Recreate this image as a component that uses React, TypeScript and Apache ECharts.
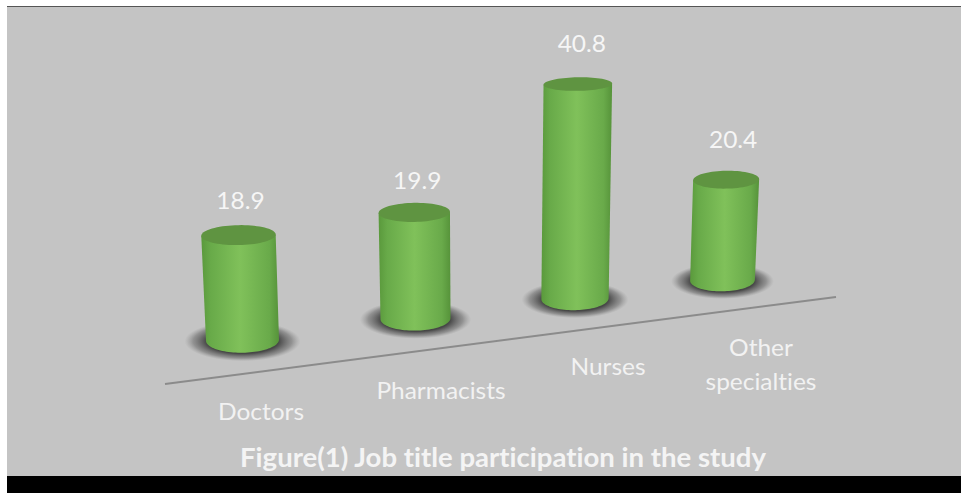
import React, { useEffect, useRef } from "react";
import * as echarts from "echarts";

const categories = ["Doctors", "Pharmacists", "Nurses", "Other\nspecialties"];
const values = [18.9, 19.9, 40.8, 20.4];
const valueMax = 50;
const chartTitle = "Figure(1) Job title participation in the study";

const W = 961;
const H = 493;
const FONT = "Lato, 'Open Sans', sans-serif";
const GRID_LEFT = 147.2;
const GRID_WIDTH = 762.4;
const VALUE_DY = [-36, -33, -41, -41];
const VALUE_DX = [2, 3, 4, 7];
const CAT_OFFSET = [[18.5, 70], [25.5, 71], [33, 67], [38.5, 83]];

function arcPts(cx: number, cy: number, rx: number, ry: number, rotDeg: number, a0: number, a1: number, n = 48) {
  const r = (rotDeg * Math.PI) / 180;
  const out: number[][] = [];
  for (let k = 0; k <= n; k++) {
    const a = a0 + ((a1 - a0) * k) / n;
    const ex = rx * Math.cos(a);
    const ey = ry * Math.sin(a);
    out.push([cx + ex * Math.cos(r) - ey * Math.sin(r), cy + ex * Math.sin(r) + ey * Math.cos(r)]);
  }
  return out;
}

function renderCylinder(params: any, api: any) {
  const i = api.value(0);
  const v = api.value(1);
  const base = api.coord([i, 0]);
  const top = api.coord([i, v]);
  const t = (base[0] - (GRID_LEFT + GRID_WIDTH / 8)) / (GRID_WIDTH / 4);
  const s = 1 / (1 + 0.04235 * t);
  const bx = base[0] * s;
  const by = 340.2 - 0.125 * (bx - 242.5);
  const h0 = (base[1] - top[1]) * s;
  const h = h0 * (1 + 0.00025 * (h0 - 105));
  const tilt = 0.000155 * (bx - 490);
  const tx = bx + tilt * h;
  const ty = by - h;
  const botRx = (73 * s) / 2;
  const topRx = (74.4 * s) / 2;
  const botRy = 12.5 * s;
  const topRy = s * (12.5 - 0.024 * h);
  const rot = -1;

  const bottomArc = arcPts(bx, by, botRx, botRy, rot, Math.PI, 0);
  const lid = arcPts(tx, ty, topRx, topRy, rot, 0, Math.PI * 2, 72);
  const body = [lid[36], ...bottomArc, lid[0]];
  const co = CAT_OFFSET[i];

  return {
    type: "group",
    children: [
      {
        type: "ellipse",
        shape: { cx: bx, cy: by + 1, rx: 58 * s, ry: 20 * s },
        style: {
          fill: {
            type: "radial",
            x: 0.5,
            y: 0.5,
            r: 0.5,
            colorStops: [
              { offset: 0, color: "rgba(50,50,50,1)" },
              { offset: 0.62, color: "rgba(65,65,65,0.95)" },
              { offset: 0.85, color: "rgba(95,95,95,0.5)" },
              { offset: 1, color: "rgba(130,130,130,0)" },
            ],
          },
        },
      },
      {
        type: "polygon",
        shape: { points: body },
        style: {
          fill: {
            type: "linear",
            x: 0,
            y: 0,
            x2: 1,
            y2: 0,
            colorStops: [
              { offset: 0, color: "#5a993c" },
              { offset: 0.12, color: "#68aa49" },
              { offset: 0.5, color: "#80c15a" },
              { offset: 0.88, color: "#69aa4a" },
              { offset: 1, color: "#56933a" },
            ],
          },
        },
      },
      { type: "polygon", shape: { points: lid }, style: { fill: "#5f9441" } },
      {
        type: "text",
        x: tx + VALUE_DX[i],
        y: ty + VALUE_DY[i],
        scaleX: 1.02,
        style: {
          text: String(v),
          x: 0,
          y: 0,
          align: "center",
          verticalAlign: "middle",
          fill: "#f6f6f6",
          font: `24px ${FONT}`,
        },
      },
      {
        type: "text",
        x: bx + co[0],
        y: by + co[1],
        scaleX: 1.02,
        style: {
          text: categories[i],
          x: 0,
          y: 0,
          align: "center",
          verticalAlign: "middle",
          fill: "#f2f2f2",
          font: `24px ${FONT}`,
          lineHeight: 34,
        },
      },
    ],
  };
}

export default function App() {
  const ref = useRef<HTMLDivElement>(null);
  useEffect(() => {
    document.body.style.margin = "0";
    const chart = echarts.init(ref.current!, undefined, { renderer: "svg" });
    chart.setOption({
      animation: false,
      backgroundColor: "#ffffff",
      grid: { left: GRID_LEFT, width: GRID_WIDTH, top: 20, height: 278 },
      xAxis: { type: "category", data: categories, show: false },
      yAxis: { type: "value", min: 0, max: valueMax, show: false },
      graphic: [
        { type: "rect", z: -10, shape: { x: 7, y: 7, width: W - 7, height: 469 }, style: { fill: "#c4c4c4" } },
        { type: "rect", z: -9, shape: { x: 7, y: 6, width: W - 7, height: 1 }, style: { fill: "#555555" } },
        { type: "rect", z: -9, shape: { x: 7, y: 476, width: W - 7, height: 17 }, style: { fill: "#000000" } },
        { type: "line", z: -8, shape: { x1: 165, y1: 384, x2: 836, y2: 297 }, style: { stroke: "#8b8b8b", lineWidth: 2 } },
        {
          type: "text",
          z: 5,
          x: 503,
          y: 457,
          scaleX: 1.02,
          style: {
            text: chartTitle,
            x: 0,
            y: 0,
            align: "center",
            verticalAlign: "middle",
            fill: "#f4f4f4",
            font: `bold 27px ${FONT}`,
          },
        },
      ],
      series: [
        {
          type: "custom",
          clip: false,
          silent: true,
          encode: { x: 0, y: 1 },
          data: values.map((v, i) => [i, v]),
          renderItem: renderCylinder,
        },
      ],
    });
    return () => chart.dispose();
  }, []);
  return (
    <div ref={ref} style={{ width: W, height: H }}>
      <style>{`svg text { font-variant-ligatures: none !important; font-feature-settings: "liga" 0, "clig" 0, "dlig" 0 !important; }`}</style>
    </div>
  );
}
